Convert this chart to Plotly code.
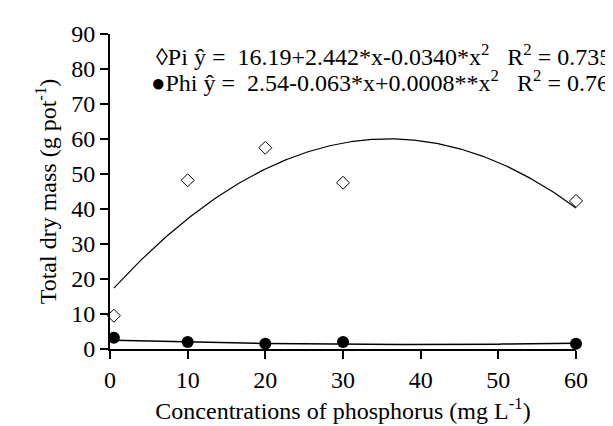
import numpy as np
import plotly.graph_objects as go

conc = [0.5, 10, 20, 30, 60]
pi_mass = [9.5, 48.2, 57.5, 47.5, 42.3]
phi_mass = [3.2, 2.0, 1.5, 2.0, 1.5]
pi_coef = [16.19, 2.442, -0.0340]
phi_coef = [2.54, -0.063, 0.0008]
x_ticks = [0, 10, 20, 30, 40, 50, 60]
y_ticks = [0, 10, 20, 30, 40, 50, 60, 70, 80, 90]
pi_label = "\u25CAPi \u0177 =  16.19+2.442*x-0.0340*x<sup>2</sup>   R<sup>2</sup> = 0.735"
phi_label = "\u25CFPhi \u0177 =  2.54-0.063*x+0.0008**x<sup>2</sup>   R<sup>2</sup> = 0.762"

xs = np.linspace(conc[0], conc[-1], 200)
pi_fit = pi_coef[0] + pi_coef[1] * xs + pi_coef[2] * xs**2
phi_fit = phi_coef[0] + phi_coef[1] * xs + phi_coef[2] * xs**2

font = "Liberation Serif, serif"
fsize = 24
fig = go.Figure()
fig.add_trace(go.Scatter(x=xs, y=pi_fit, mode="lines", line=dict(color="black", width=1.2),
                         cliponaxis=False, showlegend=False))
fig.add_trace(go.Scatter(x=xs, y=phi_fit, mode="lines", line=dict(color="black", width=1.5),
                         cliponaxis=False, showlegend=False))
fig.add_trace(go.Scatter(x=conc, y=pi_mass, mode="markers",
                         marker=dict(symbol="diamond-open", size=10, color="black", line=dict(width=1)),
                         cliponaxis=False, showlegend=False))
fig.add_trace(go.Scatter(x=conc, y=phi_mass, mode="markers",
                         marker=dict(symbol="circle", size=12, color="black"),
                         cliponaxis=False, showlegend=False))

fig.add_annotation(xref="paper", yref="paper", x=(146 - 102) / 466, y=(341 - 47) / 315,
                   xanchor="left", yanchor="middle", text=pi_label, showarrow=False,
                   font=dict(family=font, size=fsize, color="black"))
fig.add_annotation(xref="paper", yref="paper", x=(141 - 102) / 466, y=(341 - 73) / 315,
                   xanchor="left", yanchor="middle", text=phi_label, showarrow=False,
                   font=dict(family=font, size=fsize, color="black"))

fig.update_layout(
    width=613, height=426,
    margin=dict(l=102, r=45, t=26, b=85),
    paper_bgcolor="white", plot_bgcolor="white",
    font=dict(family=font, size=fsize, color="black"),
    xaxis=dict(range=[0, 60], tickvals=x_ticks, showgrid=False, zeroline=False,
               showline=True, linecolor="black", linewidth=2, ticks="outside",
               ticklen=8, tickwidth=2, tickcolor="black",
               tickfont=dict(family=font, size=fsize, color="black"),
               title=dict(text="Concentrations of phosphorus (mg L<sup>-1</sup>)", standoff=10,
                          font=dict(family=font, size=fsize, color="black"))),
    yaxis=dict(range=[0, 90], tickvals=y_ticks, showgrid=False, zeroline=False,
               showline=True, linecolor="black", linewidth=2, ticks="outside",
               ticklen=8, tickwidth=2, tickcolor="black",
               tickfont=dict(family=font, size=fsize, color="black"),
               title=dict(text="Total dry mass (g pot<sup>-1</sup>)", standoff=8,
                          font=dict(family=font, size=fsize, color="black"))),
)
fig.write_html("out.html")
